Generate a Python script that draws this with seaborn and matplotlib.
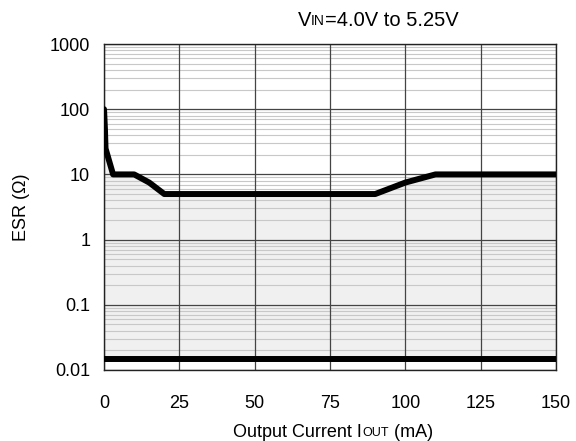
import numpy as np
import pandas as pd
import seaborn as sns
import matplotlib.pyplot as plt
from matplotlib.ticker import LogLocator, FixedLocator, NullFormatter

# upper ESR boundary (stable region below it)
iout_upper = [0, 0.3, 0.5, 3, 10, 15, 20, 90, 100, 110, 150]
esr_upper = [100, 50, 25, 10, 10, 7.5, 5, 5, 7.5, 10, 10]

# lower ESR boundary
iout_lower = [0, 150]
esr_lower = [0.015, 0.015]

x_ticks = [0, 25, 50, 75, 100, 125, 150]
y_ticks = [0.01, 0.1, 1, 10, 100, 1000]
y_labels = ['0.01', '0.1', '1', '10', '100', '1000']

sns.set_style('white')
plt.rcParams['font.family'] = ['Liberation Sans', 'DejaVu Sans']
plt.rcParams['text.color'] = 'black'
plt.rcParams['xtick.color'] = 'black'
plt.rcParams['ytick.color'] = 'black'
plt.rcParams['axes.labelcolor'] = 'black'

FS = 13
FS_SMALL = 9

fig, ax = plt.subplots(figsize=(5.76, 4.41), dpi=100)
fig.subplots_adjust(left=0.1806, right=0.9653, top=0.9002, bottom=0.161)

up = pd.DataFrame({'iout': iout_upper, 'esr': esr_upper})
lo = pd.DataFrame({'iout': iout_lower, 'esr': esr_lower})

# shaded stable region
lower_interp = np.full(len(iout_upper), esr_lower[0])
ax.fill_between(iout_upper, lower_interp, esr_upper, color='#f0f0f0', zorder=0, lw=0)

sns.lineplot(data=up, x='iout', y='esr', color='black', lw=4.3, ax=ax, zorder=5,
             estimator=None, sort=False)
sns.lineplot(data=lo, x='iout', y='esr', color='black', lw=4.3, ax=ax, zorder=5,
             estimator=None, sort=False)

ax.set_yscale('log')
ax.set_xlim(0, 150)
ax.set_ylim(0.01, 1000)
ax.set_xticks(x_ticks)
ax.set_xticklabels([str(t) for t in x_ticks])
ax.yaxis.set_major_locator(FixedLocator(y_ticks))
ax.set_yticklabels(y_labels)
ax.yaxis.set_minor_locator(LogLocator(base=10, subs=np.arange(2, 10), numticks=20))
ax.yaxis.set_minor_formatter(NullFormatter())

ax.grid(which='major', axis='both', color='#444444', lw=0.9, zorder=1)
ax.grid(which='minor', axis='y', color='#c8c8c8', lw=0.8, zorder=1)
ax.set_axisbelow(True)
# draw horizontal grid first so vertical lines are not broken
ax.yaxis.set_zorder(0.4)

ax.tick_params(axis='both', which='both', length=0, labelsize=FS)
ax.tick_params(axis='x', pad=18)
ax.tick_params(axis='y', pad=10)

for s in ax.spines.values():
    s.set_color('#222222')
    s.set_linewidth(1.0)

ax.set_xlabel('')
ax.set_ylabel('ESR (\u03a9)', fontsize=FS, labelpad=14)

# x label with small-caps subscript
t1 = fig.text(0.405, 0.0, 'Output Current I', fontsize=FS, ha='left', va='bottom')
t2 = ax.annotate('OUT', xy=(1, 0), xycoords=t1, fontsize=FS_SMALL, ha='left', va='bottom',
                 xytext=(0, 1.2), textcoords='offset points')
ax.annotate(' (mA)', xy=(1, 0), xycoords=t2, fontsize=FS, ha='left', va='bottom',
            xytext=(0, -1.2), textcoords='offset points')

# title with small-caps subscript
v1 = fig.text(0.517, 0.932, 'V', fontsize=14.5, ha='left', va='bottom')
v2 = ax.annotate('IN', xy=(1, 0), xycoords=v1, fontsize=10, ha='left', va='bottom',
                 xytext=(0, 1.3), textcoords='offset points')
ax.annotate('=4.0V to 5.25V', xy=(1, 0), xycoords=v2, fontsize=14.5, ha='left', va='bottom',
            xytext=(0, -1.3), textcoords='offset points')

fig.savefig('out.png', dpi=100)
